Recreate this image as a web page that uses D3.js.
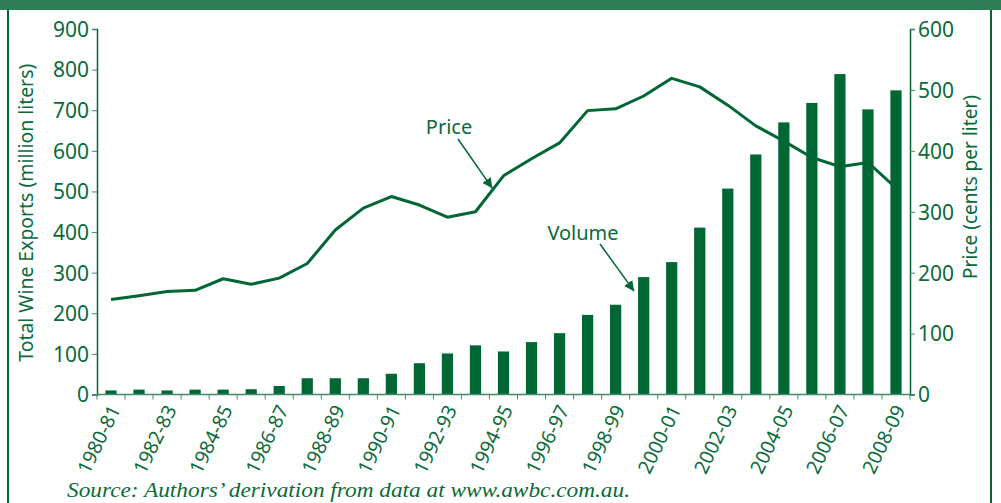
<!DOCTYPE html>
<html>
<head>
<meta charset="utf-8">
<script src="https://cdn.jsdelivr.net/npm/d3@7"></script>
<style>
  body { margin: 0; background: #fff; }
  svg { display: block; }
  text { font-family: "Noto Sans", sans-serif; }
</style>
</head>
<body>
<div id="chart"></div>
<script>
const categories = ["1980-81","1981-82","1982-83","1983-84","1984-85","1985-86","1986-87","1987-88",
    "1988-89","1989-90","1990-91","1991-92","1992-93","1993-94","1994-95","1995-96","1996-97",
    "1997-98","1998-99","1999-00","2000-01","2001-02","2002-03","2003-04","2004-05","2005-06",
    "2006-07","2007-08","2008-09"];
// million liters
const volume = [10,12,10,12,12,13,21,40,40,40,51,77,101,121,106,129,151,196,221,289,326,411,507,591,670,718,789,702,749];
// cents per liter
const price = [156,162,169,171,190,181,191,215,270,306,325,311,291,300,359,387,413,466,469,490,519,505,475,441,416,389,374,381,339];
const leftTicks = [0,100,200,300,400,500,600,700,800,900];
const rightTicks = [0,100,200,300,400,500,600];
const labelEvery = 2;

const W = 1001, H = 503;
const plot = { left: 97, right: 910, top: 29, bottom: 394.5 };
const green = "#006633";
const textGreen = "#0a6a3a";

const svg = d3.select("#chart").append("svg")
    .attr("width", W)
    .attr("height", H);

// banner + frame
svg.append("rect").attr("x", 0).attr("y", 0).attr("width", W).attr("height", 10).attr("fill", "#2e7d57");
svg.append("line").attr("x1", 8).attr("x2", 8).attr("y1", 10).attr("y2", H)
    .attr("stroke", green).attr("stroke-width", 2);
svg.append("line").attr("x1", 991).attr("x2", 991).attr("y1", 10).attr("y2", H)
    .attr("stroke", green).attr("stroke-width", 2);

const x = d3.scaleBand()
    .domain(categories)
    .range([plot.left, plot.right])
    .paddingInner(0.6)
    .paddingOuter(0.3);

const yL = d3.scaleLinear().domain([0, 900]).range([plot.bottom, plot.top]);
const yR = d3.scaleLinear().domain([0, 600]).range([plot.bottom, plot.top]);

// bars
svg.append("g")
    .selectAll("rect")
    .data(categories.map((c, i) => ({ c, v: volume[i] })))
    .join("rect")
    .attr("x", d => x(d.c))
    .attr("y", d => yL(d.v))
    .attr("width", x.bandwidth())
    .attr("height", d => yL(0) - yL(d.v))
    .attr("fill", green);

// price line
const line = d3.line()
    .x((d, i) => x(categories[i]) + x.bandwidth() / 2)
    .y(d => yR(d));
svg.append("path")
    .datum(price)
    .attr("d", line)
    .attr("fill", "none")
    .attr("stroke", green)
    .attr("stroke-width", 3)
    .attr("stroke-linejoin", "round");

// Eixo esquerdo
const gL = svg.append("g")
    .attr("transform", `translate(${plot.left},0)`)
    .call(d3.axisLeft(yL).tickValues(leftTicks).tickSize(5).tickPadding(3));
gL.select(".domain").attr("stroke", green).attr("stroke-width", 1.5);
gL.selectAll(".tick line").attr("stroke", "#3f8d66");
gL.selectAll(".tick text").attr("fill", textGreen).style("font-size", "21px")
    .style("font-family", "Noto Sans").attr("dy", "0.35em");

// Eixo direito
const gR = svg.append("g")
    .attr("transform", `translate(${plot.right},0)`)
    .call(d3.axisRight(yR).tickValues(rightTicks).tickSize(5).tickPadding(3));
gR.select(".domain").attr("stroke", green).attr("stroke-width", 1.5);
gR.selectAll(".tick line").attr("stroke", "#3f8d66");
gR.selectAll(".tick text").attr("fill", textGreen).style("font-size", "21px")
    .style("font-family", "Noto Sans").attr("dy", "0.35em");

// Eixo X
svg.append("line")
    .attr("x1", plot.left).attr("x2", plot.right)
    .attr("y1", plot.bottom).attr("y2", plot.bottom)
    .attr("stroke", "#3f8d66").attr("stroke-width", 1.5);
svg.append("g")
    .selectAll("line")
    .data(d3.range(categories.length + 1))
    .join("line")
    .attr("x1", k => plot.left + k * x.step())
    .attr("x2", k => plot.left + k * x.step())
    .attr("y1", plot.bottom)
    .attr("y2", plot.bottom + 5)
    .attr("stroke", "#3f8d66");

svg.append("g")
    .selectAll("text")
    .data(categories.filter((c, i) => i % labelEvery === 0))
    .join("text")
    .attr("transform", d => `translate(${x(d) + x.bandwidth() / 2 + 10},${plot.bottom + 15}) rotate(-64)`)
    .attr("text-anchor", "end")
    .attr("fill", textGreen)
    .style("font-size", "19.5px")
    .text(d => d);

// Rótulos dos eixos
svg.append("text")
    .attr("transform", `translate(33,${(plot.top + plot.bottom) / 2 + 1}) rotate(-90)`)
    .attr("text-anchor", "middle")
    .attr("fill", textGreen)
    .style("font-size", "20px")
    .attr("textLength", 298)
    .attr("lengthAdjust", "spacingAndGlyphs")
    .text("Total Wine Exports (million liters)");

svg.append("text")
    .attr("transform", `translate(977,187) rotate(-90)`)
    .attr("text-anchor", "middle")
    .attr("fill", textGreen)
    .style("font-size", "20px")
    .attr("textLength", 184)
    .attr("lengthAdjust", "spacingAndGlyphs")
    .text("Price (cents per liter)");

// anotações
svg.append("defs").append("marker")
    .attr("id", "head")
    .attr("viewBox", "0 0 10 10")
    .attr("refX", 10).attr("refY", 5)
    .attr("markerWidth", 10).attr("markerHeight", 10)
    .attr("markerUnits", "userSpaceOnUse")
    .attr("orient", "auto")
    .append("path")
    .attr("d", "M0,0 L10,5 L0,10 Z")
    .attr("fill", green);

const iP = 13;
const px = x(categories[iP]) + x.bandwidth() / 2 + x.step() * 0.6;
const py = yR(price[iP] + (price[iP + 1] - price[iP]) * 0.6) - 2;
svg.append("text").attr("x", 449).attr("y", 134).attr("text-anchor", "middle")
    .attr("fill", textGreen).style("font-size", "20px").text("Price");
svg.append("line").attr("x1", 458).attr("y1", 139).attr("x2", px).attr("y2", py)
    .attr("stroke", green).attr("stroke-width", 1.5).attr("marker-end", "url(#head)");

const iV = 19;
const vx = x(categories[iV]) - 4;
const vy = yL(volume[iV]) + 14;
svg.append("text").attr("x", 583).attr("y", 240).attr("text-anchor", "middle")
    .attr("fill", textGreen).style("font-size", "20px").text("Volume");
svg.append("line").attr("x1", 600).attr("y1", 244).attr("x2", vx).attr("y2", vy)
    .attr("stroke", green).attr("stroke-width", 1.5).attr("marker-end", "url(#head)");

// fonte
svg.append("text")
    .attr("x", 67).attr("y", 497)
    .attr("fill", textGreen)
    .style("font-family", "'Liberation Serif', serif")
    .style("font-style", "italic")
    .style("font-size", "22px")
    .attr("textLength", 563)
    .attr("lengthAdjust", "spacingAndGlyphs")
    .text("Source: Authors\u2019 derivation from data at www.awbc.com.au.");
</script>
</body>
</html>
